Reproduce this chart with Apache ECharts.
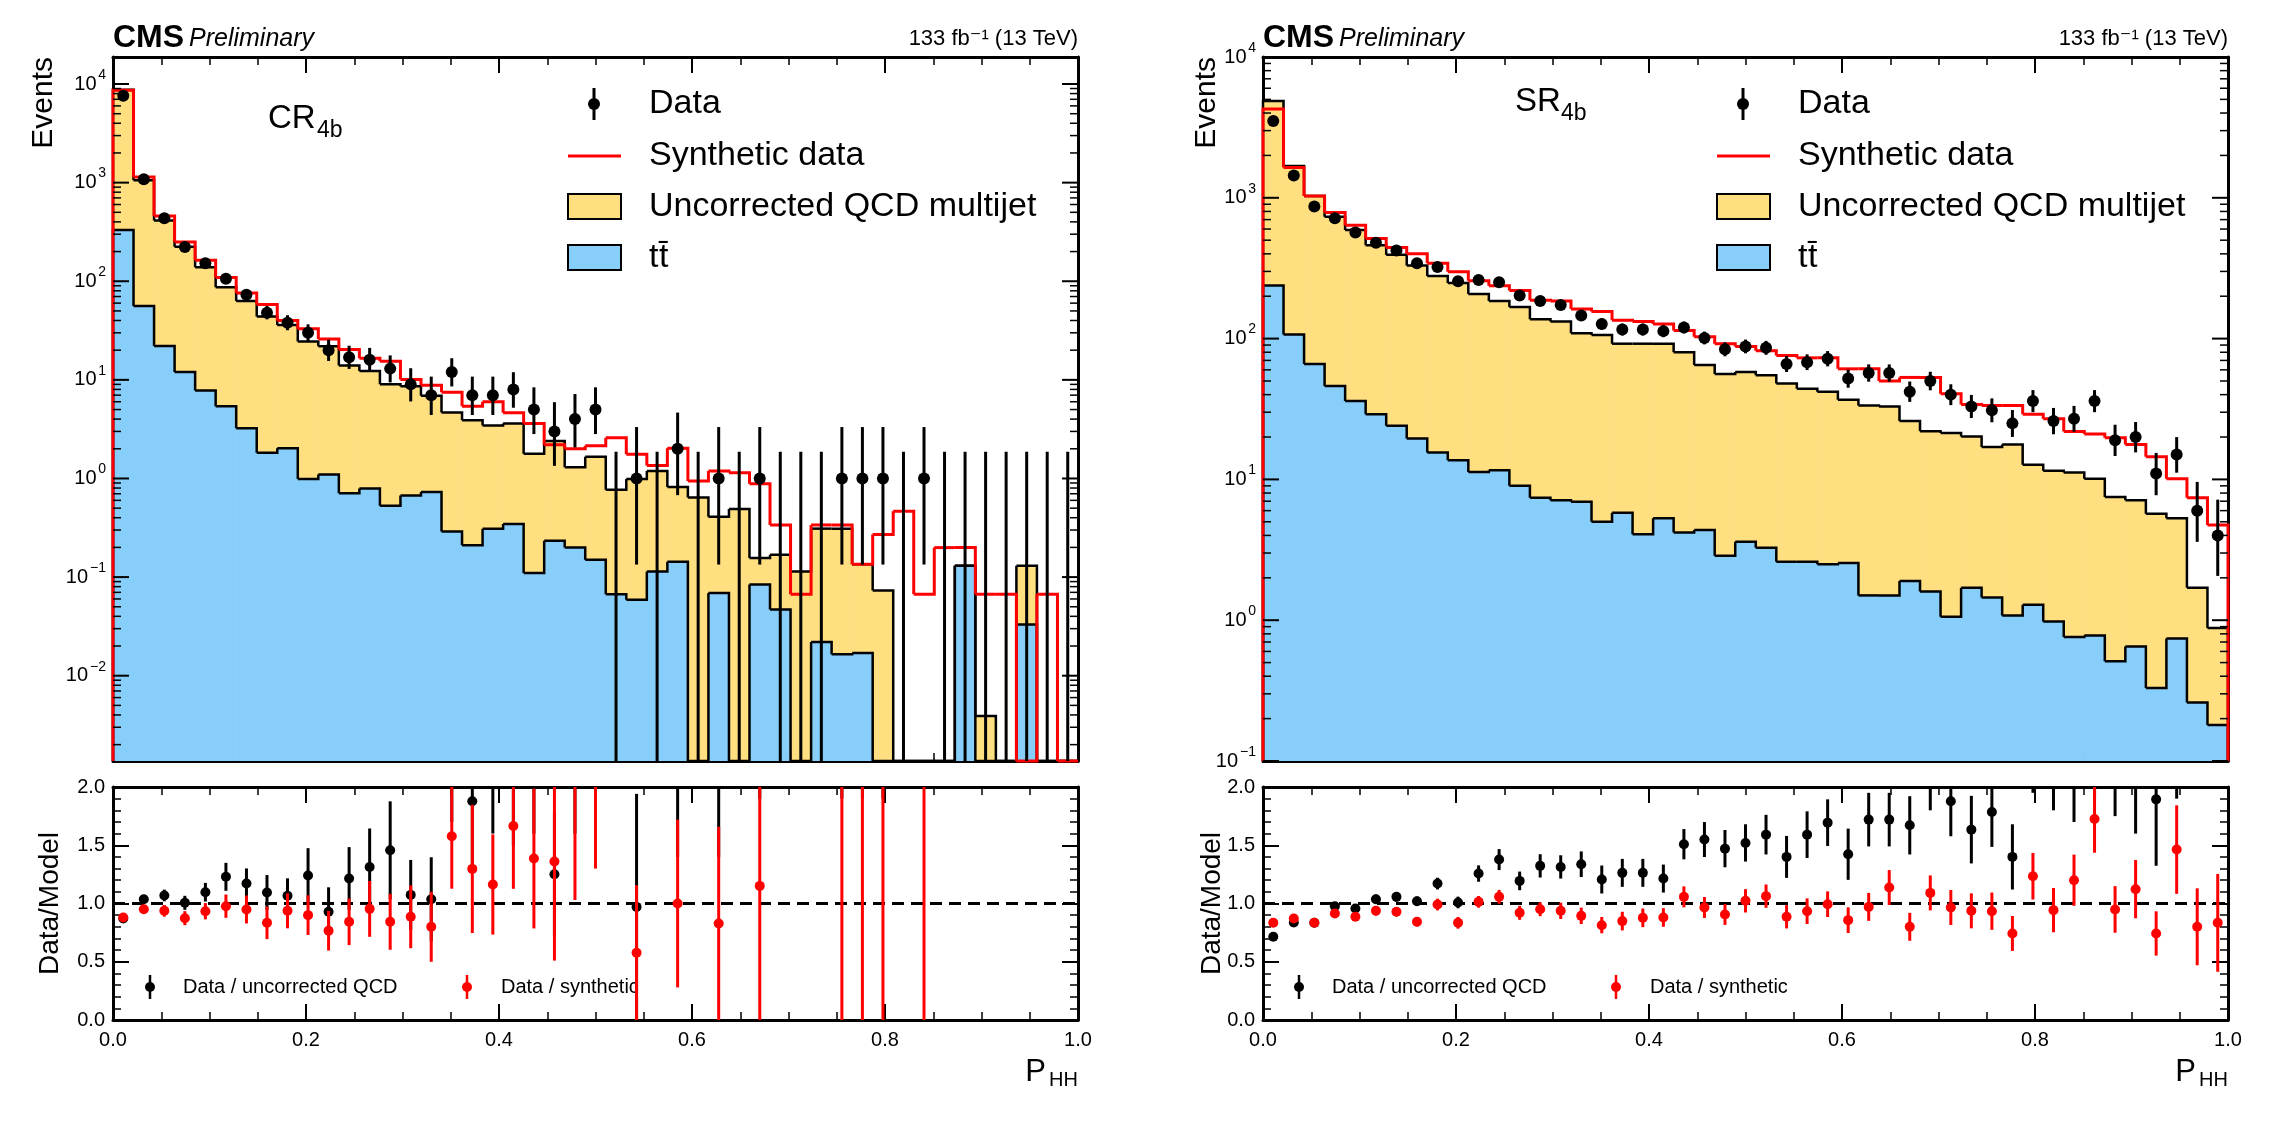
<!DOCTYPE html>
<html>
<head>
<meta charset="utf-8">
<script src="https://cdn.jsdelivr.net/npm/echarts@6/dist/echarts.min.js"></script>
<style>html,body{margin:0;background:#fff}#chart{width:2284px;height:1134px}</style>
</head>
<body>
<div id="chart"></div>
<script>
// 47 equal bins of P_HH in [0, 1]
const nBins = 47;
const xTicks = [0, 0.2, 0.4, 0.6, 0.8, 1.0];

// ---- CR_4b ----
const crData = [7600,1080,436,222,152,106,73,48,38,30,20,17,16,13,9,7,12,7,7,8,5,3,4,5,
  0,1,0,2,0,1,0,1,0,0,0,1,1,1,0,1,0,0,0,0,0,0,0];
const crSynthetic = [8650,1140,460,250,163,109,76,58,40,33,26,20.3,16.6,15.4,10.1,8.8,7.5,5.4,6.0,4.65,3.6,2.2,2.0,2.15,
  2.59,1.76,1.35,2.03,0.94,1.19,1.14,0.885,0.338,0.067,0.338,0.338,0.135,0.271,0.466,0.067,0.199,0.199,0.067,0.067,0,0.067,0];
const crTotal = [8750,1060,412,224,139,87,63,44,36,24.5,21.9,14,12.3,9,8.6,6.9,4.66,3.9,3.45,3.6,1.78,2.4,1.3,1.66,
  0.77,0.99,1.19,0.82,0.64,0.41,0.49,0.156,0.168,0.114,0.31,0.31,0.135,0.073,0,0,0,0.13,0.0039,0,0.13,0,0];
const crTtbar = [330,56,22,12,7.8,5.4,3.24,1.82,2.03,0.99,1.1,0.71,0.79,0.53,0.67,0.73,0.29,0.21,0.31,0.345,0.11,0.234,0.2,0.15,
  0.067,0.059,0.114,0.143,0,0.069,0,0.084,0.047,0,0.022,0.0165,0.017,0,0,0,0,0.13,0,0,0.033,0,0];
const crRatioQcd = [0.871,1.037,1.069,1.006,1.097,1.229,1.171,1.094,1.066,1.24,0.929,1.214,1.314,1.457,1.074,1.037,2.6,1.877,2.1,2.4,2.8,1.251,3.1,3.0,
  null,0.971,null,2.4,null,2.4,null,6.4,null,null,null,3.2,7.4,13.7,null,null,null,null,null,null,null,null,null];
const crRatioQcdErr = [0.03,0.03,0.05,0.06,0.08,0.12,0.13,0.15,0.15,0.235,0.21,0.27,0.33,0.42,0.3,0.36,0.9,0.6,0.5,0.9,1.2,0.53,1.5,1.3,
  null,0.97,null,1.0,null,1.0,null,4.5,null,null,null,1.3,5.5,11.8,null,null,null,null,null,null,null,null,null];
const crRatioSyn = [0.88,0.951,0.937,0.874,0.934,0.977,0.949,0.834,0.937,0.9,0.766,0.843,0.954,0.843,0.886,0.8,1.577,1.297,1.163,1.666,1.386,1.36,2.2,2.3,
  null,0.577,null,1.0,null,0.829,null,1.151,null,null,null,3.0,7.4,3.7,null,15,null,null,null,null,null,null,null];
const crRatioSynErr = [0.03,0.03,0.05,0.06,0.07,0.1,0.12,0.14,0.15,0.17,0.17,0.2,0.24,0.24,0.27,0.3,0.45,0.55,0.43,0.54,0.6,0.85,1.17,1.0,
  null,0.58,null,0.72,null,0.83,null,1.15,null,null,null,3.0,7.4,3.7,null,15,null,null,null,null,null,null,null];

// ---- SR_4b ----
const srData = [3510,1440,869,716,567,479,423,343,322,255,261,251,202,185,173,146,127,116,116,113,120,101,84,88,
  86,66,68,72,52,57,57,42,50,40,33,31,25,36,26,27,36,19,20,11,15,6,4];
const srSynthetic = [4270,1640,1030,787,638,513,443,401,343,298,258,237,220,187,185,162,156,135,132,127,114,103,92,88,
  82,76,73,73,61,61,50,53,53,40.6,34,33.5,33.5,29,27,21.9,21,19.8,17.7,14.5,10.1,7.4,4.75];
const srTotal = [4860,1680,1030,733,590,460,394,330,278,248,207,185,168,137,132,109,106,92,92,92,80,65,56,58,
  55,48,44,42,36.8,33.5,33,26,22,21.4,20.2,17,17.7,12.7,11.5,11.2,10.1,7.5,7.1,5.7,5.3,1.7,0.88];
const srTtbar = [238,107,66,46,36,29,24,19.5,15.5,13.7,11.3,11.6,9,7.4,7.1,6.95,5.0,5.8,4.07,5.3,4.2,4.37,2.87,3.6,
  3.27,2.6,2.6,2.5,2.55,1.5,1.5,1.9,1.6,1.06,1.7,1.45,1.08,1.29,0.98,0.76,0.78,0.51,0.65,0.33,0.74,0.26,0.18];
const srRatioQcd = [0.714,0.837,0.834,0.977,0.957,1.037,1.057,1.02,1.171,1.009,1.257,1.377,1.194,1.323,1.314,1.337,1.206,1.263,1.263,1.214,1.509,1.549,1.471,1.52,
  1.591,1.4,1.591,1.694,1.423,1.72,1.72,1.671,2.1,1.877,1.634,1.786,1.4,2.3,2.2,2.1,2.3,2.2,2.1,1.894,2.5,3.0,3.5];
const srRatioQcdErr = [0.03,0.03,0.03,0.03,0.035,0.04,0.04,0.04,0.05,0.05,0.07,0.09,0.08,0.1,0.1,0.11,0.12,0.12,0.12,0.12,0.13,0.15,0.16,0.16,
  0.17,0.18,0.2,0.2,0.22,0.23,0.23,0.25,0.3,0.3,0.29,0.3,0.28,0.35,0.4,0.4,0.4,0.45,0.5,0.57,0.6,0.9,1.2];
const srRatioSyn = [0.834,0.871,0.834,0.914,0.886,0.937,0.929,0.843,0.991,0.834,1.014,1.057,0.92,0.951,0.937,0.894,0.814,0.849,0.877,0.88,1.057,0.966,0.906,1.023,
  1.063,0.886,0.934,0.994,0.857,0.971,1.137,0.8,1.091,0.966,0.937,0.934,0.743,1.234,0.943,1.2,1.726,0.949,1.123,0.743,1.463,0.8,0.834];
const srRatioSynErr = [0.02,0.02,0.03,0.03,0.03,0.04,0.04,0.04,0.05,0.05,0.05,0.06,0.06,0.06,0.07,0.07,0.07,0.08,0.08,0.08,0.09,0.09,0.09,0.1,
  0.1,0.1,0.11,0.11,0.11,0.12,0.15,0.12,0.15,0.15,0.15,0.16,0.15,0.2,0.19,0.22,0.29,0.2,0.25,0.19,0.38,0.33,0.42];

const FONT = 'Liberation Sans, Arial, Helvetica, DejaVu Sans, sans-serif';
const BLUE = '#87cefa', YELLOW = '#ffdf80', RED = '#ff0000';
const crRange = [-2.865, 4.274], srRange = [-1, 4];
const panelX = [113, 1263], panelW = 965;
const mainY = 57, mainH = 704, ratioY = 787, ratioH = 233;

function lg(v) { return v > 0 ? Math.log10(v) : -99; }
function clampTo(cs) {
  return y => Math.max(cs.y, Math.min(cs.y + cs.height, y));
}
function binX(api, i) {
  return [api.coord([i / nBins, 0])[0], api.coord([(i + 1) / nBins, 0])[0]];
}

// stacked fills: ttbar (blue) at bottom, QCD (yellow) on top
function fillItem(params, api) {
  const cs = params.coordSys, cl = clampTo(cs);
  const [x0, x1] = binX(api, api.value(0));
  const yT = cl(api.coord([0, api.value(1)])[1]);
  const yS = Math.min(yT, cl(api.coord([0, api.value(2)])[1]));
  const bottom = cs.y + cs.height;
  return {type: 'group', children: [
    {type: 'rect', shape: {x: x0, y: yS, width: x1 - x0 + 0.6, height: yT - yS}, style: {fill: YELLOW}},
    {type: 'rect', shape: {x: x0, y: yT, width: x1 - x0 + 0.6, height: bottom - yT}, style: {fill: BLUE}}
  ]};
}
function stepItem(color, width) {
  return function (params, api) {
    const cs = params.coordSys, cl = clampTo(cs);
    const i = api.value(0);
    const [x0, x1] = binX(api, i);
    const y = cl(api.coord([0, api.value(1)])[1]);
    const yn = cl(api.coord([0, api.value(2)])[1]);
    const pts = i === 0 ? [[x0, cs.y + cs.height], [x0, y], [x1, y], [x1, yn]] : [[x0, y], [x1, y], [x1, yn]];
    return {type: 'polyline', shape: {points: pts}, style: {stroke: color, lineWidth: width, fill: null}};
  };
}
function pointItem(color, r) {
  return function (params, api) {
    const cs = params.coordSys, cl = clampTo(cs);
    const i = api.value(0);
    const [x0, x1] = binX(api, i);
    const xc = (x0 + x1) / 2;
    const v = api.value(1);
    const yv = api.coord([0, v])[1];
    const yl = cl(api.coord([0, api.value(2)])[1]);
    const yh = cl(api.coord([0, api.value(3)])[1]);
    const ch = [{type: 'line', shape: {x1: xc, y1: yl, x2: xc, y2: yh}, style: {stroke: color, lineWidth: 3}}];
    if (yv >= cs.y && yv <= cs.y + cs.height) {
      ch.push({type: 'circle', shape: {cx: xc, cy: yv, r: r}, style: {fill: color}});
    }
    return {type: 'group', children: ch};
  };
}
function histData(a) {
  return a.map((v, i) => [i, lg(v), i + 1 < a.length ? lg(a[i + 1]) : -99]);
}
function stackData(t, s) {
  return t.map((v, i) => [i, lg(v), lg(Math.max(s[i], v))]);
}
function countData(a) {
  // approximate Poisson (Garwood) interval
  return a.map((n, i) => [i, n > 0 ? lg(n) : -99,
    n > 0 ? lg(n - Math.sqrt(n - 0.25)) : -99, lg(n + 1 + Math.sqrt(n + 0.75))]);
}
function ratioData(v, e) {
  const out = [];
  v.forEach((r, i) => { if (r !== null) out.push([i, r, r - e[i], r + e[i]]); });
  return out;
}
function logTickData(range) {
  const out = [];
  for (let p = Math.floor(range[0]); p <= Math.ceil(range[1]); p++) {
    for (let m = 1; m <= 9; m++) {
      const v = p + Math.log10(m);
      if (v >= range[0] - 1e-6 && v <= range[1] + 1e-6) out.push([v, m === 1 ? p : -999]);
    }
  }
  return out;
}
function logTickItem(params, api) {
  const cs = params.coordSys;
  const y = api.coord([0, api.value(0)])[1];
  const p = api.value(1), major = p > -999;
  const len = major ? 16 : 8;
  const ch = [
    {type: 'line', shape: {x1: cs.x, y1: y, x2: cs.x + len, y2: y}, style: {stroke: '#000', lineWidth: major ? 2 : 1.5}},
    {type: 'line', shape: {x1: cs.x + cs.width - len, y1: y, x2: cs.x + cs.width, y2: y}, style: {stroke: '#000', lineWidth: major ? 2 : 1.5}}
  ];
  if (major) {
    const exp = p < 0 ? '\u2212' + (-p) : String(p);
    const ew = exp.length * 8.5;
    ch.push({type: 'text', x: cs.x - 7, y: y - 9, style: {text: exp, fontSize: 14, fontFamily: FONT, fill: '#000', align: 'right', verticalAlign: 'middle'}});
    ch.push({type: 'text', x: cs.x - 8 - ew, y: y, style: {text: '10', fontSize: 20, fontFamily: FONT, fill: '#000', align: 'right', verticalAlign: 'middle'}});
  }
  return {type: 'group', children: ch};
}

const xAxes = [], yAxes = [], grids = [];
const axisLine = {show: true, onZero: false, lineStyle: {color: '#000', width: 3}};
[0, 1].forEach(side => {
  grids.push({left: panelX[side], top: mainY, width: panelW, height: mainH});
  grids.push({left: panelX[side], top: ratioY, width: panelW, height: ratioH});
});
for (let g = 0; g < 4; g++) {
  const isRatio = g % 2 === 1;
  ['bottom', 'top'].forEach(pos => xAxes.push({
    type: 'value', gridIndex: g, min: 0, max: 1, interval: 0.2, position: pos,
    axisLine: axisLine,
    axisTick: {show: true, inside: true, length: 16, lineStyle: {color: '#000', width: 2}},
    minorTick: {show: true, splitNumber: 4, length: 8, lineStyle: {color: '#000', width: 1.5}},
    axisLabel: {show: isRatio && pos === 'bottom', fontSize: 20, color: '#000', fontFamily: FONT, margin: 10,
      formatter: v => v.toFixed(1)},
    splitLine: {show: false}
  }));
  const range = g < 2 ? crRange : srRange;
  ['left', 'right'].forEach(pos => yAxes.push(isRatio ? {
    type: 'value', gridIndex: g, min: 0, max: 2, interval: 0.5, position: pos,
    axisLine: axisLine,
    axisTick: {show: true, inside: true, length: 16, lineStyle: {color: '#000', width: 2}},
    minorTick: {show: true, splitNumber: 5, length: 8, lineStyle: {color: '#000', width: 1.5}},
    axisLabel: {show: pos === 'left', fontSize: 20, color: '#000', fontFamily: FONT, margin: 8,
      formatter: v => v.toFixed(1)},
    splitLine: {show: false}
  } : {
    type: 'value', gridIndex: g, min: range[0], max: range[1], position: pos,
    axisLine: axisLine, axisTick: {show: false}, axisLabel: {show: false}, splitLine: {show: false}
  }));
}

const series = [];
const panels = [
  {g: 0, data: crData, syn: crSynthetic, total: crTotal, tt: crTtbar, range: crRange,
   rq: crRatioQcd, rqe: crRatioQcdErr, rs: crRatioSyn, rse: crRatioSynErr},
  {g: 2, data: srData, syn: srSynthetic, total: srTotal, tt: srTtbar, range: srRange,
   rq: srRatioQcd, rqe: srRatioQcdErr, rs: srRatioSyn, rse: srRatioSynErr}
];
panels.forEach(p => {
  const m = {xAxisIndex: p.g * 2, yAxisIndex: p.g * 2};
  const r = {xAxisIndex: (p.g + 1) * 2, yAxisIndex: (p.g + 1) * 2};
  series.push(Object.assign({type: 'custom', name: 'fill', renderItem: fillItem, data: stackData(p.tt, p.total), z: 1}, m));
  series.push(Object.assign({type: 'custom', name: 'ttbar', renderItem: stepItem('#000', 2.5), data: histData(p.tt), z: 2}, m));
  series.push(Object.assign({type: 'custom', name: 'qcd', renderItem: stepItem('#000', 2.5),
    data: histData(p.total.map((v, i) => Math.max(v, p.tt[i]))), z: 2}, m));
  series.push(Object.assign({type: 'custom', name: 'synthetic', renderItem: stepItem(RED, 3), data: histData(p.syn), z: 3}, m));
  series.push(Object.assign({type: 'custom', name: 'data', renderItem: pointItem('#000', 6), data: countData(p.data), z: 4}, m));
  series.push(Object.assign({type: 'custom', name: 'yticks', renderItem: logTickItem, data: logTickData(p.range), z: 5}, m));
  series.push(Object.assign({type: 'line', data: [[0, 1], [1, 1]], symbol: 'none', silent: true, z: 1,
    lineStyle: {color: '#000', width: 3, type: [12, 7]}}, r));
  series.push(Object.assign({type: 'custom', name: 'rq', renderItem: pointItem('#000', 5), data: ratioData(p.rq, p.rqe), z: 3}, r));
  series.push(Object.assign({type: 'custom', name: 'rs', renderItem: pointItem(RED, 5), data: ratioData(p.rs, p.rse), z: 4}, r));
});

// text and legend decorations
function txt(x, y, s, size, opts) {
  return Object.assign({type: 'text', x: x, y: y, style: Object.assign({text: s, fontSize: size, fontFamily: FONT, fill: '#000',
    align: 'left', textAlign: 'left', verticalAlign: 'middle', textVerticalAlign: 'middle'}, opts || {})}, {});
}
const graphic = [];
[0, 1].forEach(side => {
  const x0 = panelX[side], x1 = panelX[side] + panelW;
  graphic.push(txt(x0, 38, 'CMS', 32, {fontWeight: 'bold'}));
  graphic.push(txt(x0 + 76, 39, 'Preliminary', 25, {fontStyle: 'italic'}));
  graphic.push(txt(x1, 39, '133 fb\u207B\u00B9 (13 TeV)', 22, {align: 'right', textAlign: 'right'}));
  graphic.push(Object.assign(txt(side ? 1207 : 44, mainY, 'Events', 30, {align: 'right', textAlign: 'right'}), {rotation: Math.PI / 2}));
  graphic.push(Object.assign(txt(side ? 1212 : 50, ratioY + ratioH / 2, 'Data/Model', 28, {align: 'center', textAlign: 'center'}), {rotation: Math.PI / 2}));
  graphic.push(txt(x1 - 32, 1072, 'P', 31, {align: 'right', textAlign: 'right'}));
  graphic.push(txt(x1, 1080, 'HH', 20, {align: 'right', textAlign: 'right'}));
  // legend
  const mx = side ? 1743 : 594, tx = side ? 1798 : 649, bx = side ? 1717 : 568;
  graphic.push({type: 'line', shape: {x1: mx, y1: 88, x2: mx, y2: 120}, style: {stroke: '#000', lineWidth: 3}});
  graphic.push({type: 'circle', shape: {cx: mx, cy: 104, r: 6}, style: {fill: '#000'}});
  graphic.push(txt(tx, 104, 'Data', 34));
  graphic.push({type: 'line', shape: {x1: bx, y1: 156, x2: bx + 53, y2: 156}, style: {stroke: RED, lineWidth: 3}});
  graphic.push(txt(tx, 156, 'Synthetic data', 34));
  graphic.push({type: 'rect', shape: {x: bx, y: 194, width: 53, height: 25}, style: {fill: YELLOW, stroke: '#000', lineWidth: 2}});
  graphic.push(txt(tx, 207, 'Uncorrected QCD multijet', 34));
  graphic.push({type: 'rect', shape: {x: bx, y: 245, width: 53, height: 25}, style: {fill: BLUE, stroke: '#000', lineWidth: 2}});
  graphic.push(txt(tx, 258, 't', 34));
  graphic.push(txt(tx + 10, 258, 't\u0304', 34));
  // region label
  const lx = side ? 1515 : 268, ly = side ? 102 : 119;
  graphic.push(txt(lx, ly, side ? 'SR' : 'CR', 33));
  graphic.push(txt(lx + (side ? 46 : 49), ly + 12, '4b', 23));
  // ratio legend
  const rb = side ? [1299, 1332, 1616, 1650] : [150, 183, 467, 501];
  graphic.push({type: 'line', shape: {x1: rb[0], y1: 975, x2: rb[0], y2: 999}, style: {stroke: '#000', lineWidth: 2.5}});
  graphic.push({type: 'circle', shape: {cx: rb[0], cy: 987, r: 5}, style: {fill: '#000'}});
  graphic.push(txt(rb[1], 987, 'Data / uncorrected QCD', 20));
  graphic.push({type: 'line', shape: {x1: rb[2], y1: 975, x2: rb[2], y2: 999}, style: {stroke: RED, lineWidth: 2.5}});
  graphic.push({type: 'circle', shape: {cx: rb[2], cy: 987, r: 5}, style: {fill: RED}});
  graphic.push(txt(rb[3], 987, 'Data / synthetic', 20));
});

const chart = echarts.init(document.getElementById('chart'), null, {renderer: 'canvas'});
chart.setOption({
  animation: false,
  backgroundColor: '#fff',
  grid: grids,
  xAxis: xAxes,
  yAxis: yAxes,
  series: series,
  graphic: graphic
});
</script>
</body>
</html>
